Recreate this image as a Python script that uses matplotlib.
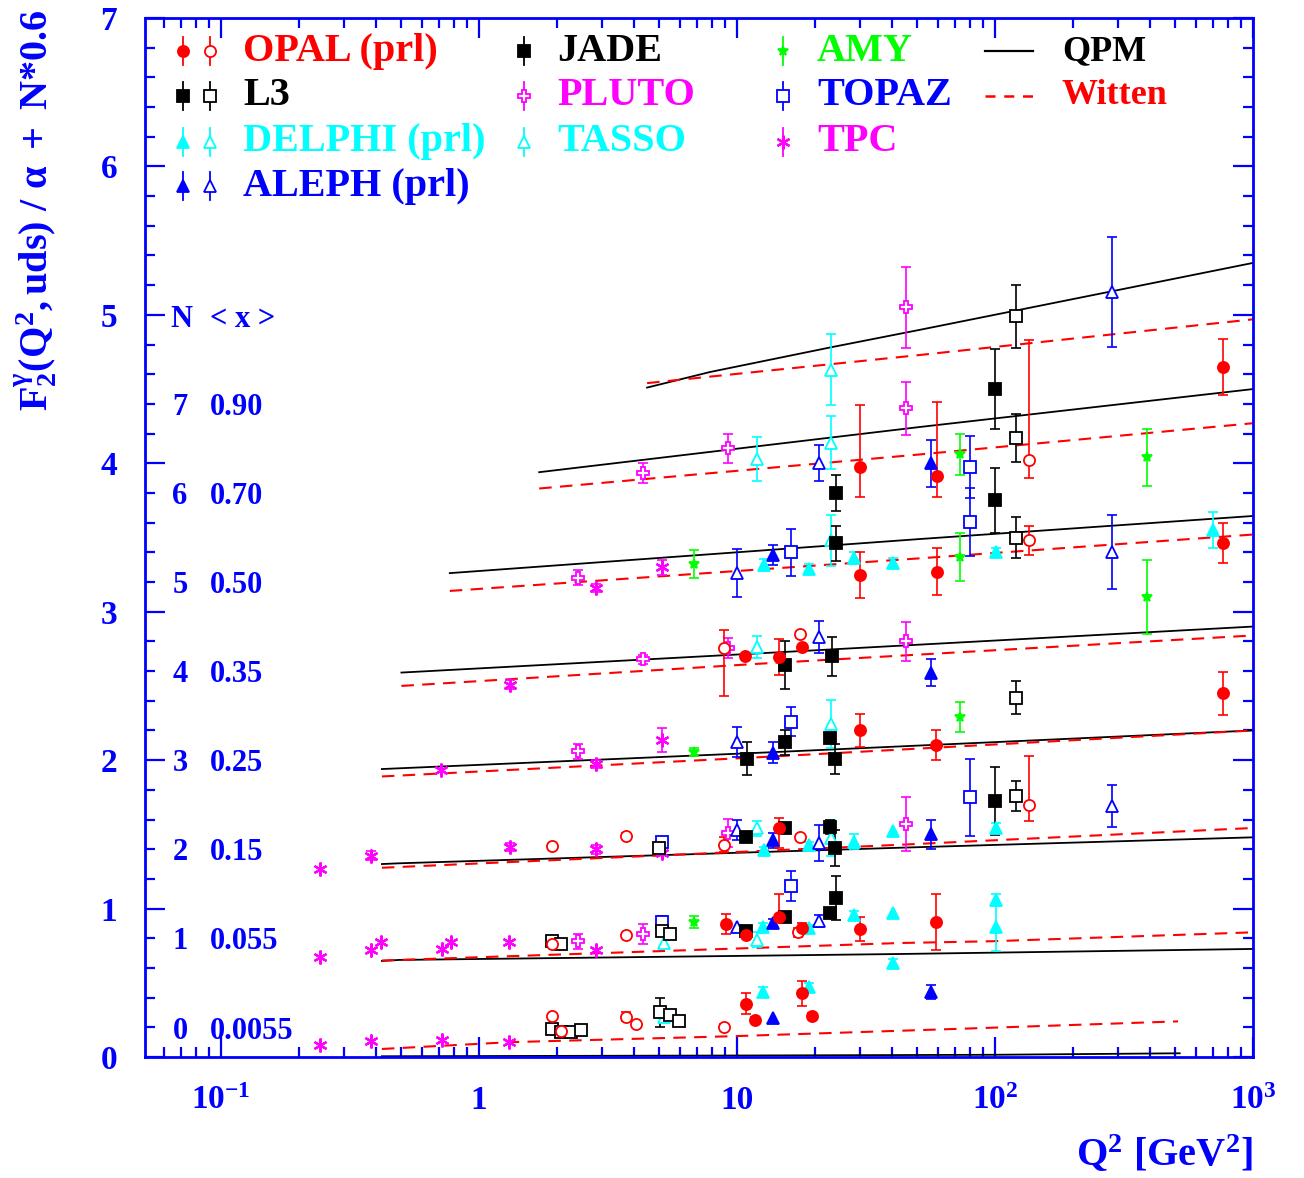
import numpy as np
import matplotlib
matplotlib.use('Agg')
import matplotlib.pyplot as plt
from matplotlib.ticker import FixedLocator, LogLocator, MultipleLocator, NullFormatter
import matplotlib.transforms as mtransforms

plt.rcParams['font.family'] = ['Liberation Serif', 'DejaVu Serif']
plt.rcParams['font.weight'] = 'bold'
plt.rcParams['mathtext.fontset'] = 'custom'
plt.rcParams['mathtext.rm'] = 'Liberation Serif:bold'
plt.rcParams['mathtext.bf'] = 'Liberation Serif:bold'
plt.rcParams['mathtext.it'] = 'Liberation Serif:bold:italic'

BLUE = '#0000ff'
RED = '#ff0000'
CYAN = '#00ffff'
MAG = '#ff00ff'
GREEN = '#00ff00'
BLACK = '#000000'

# ---------------- data (Q2 [GeV2], F2/alpha + N*0.6, errors) ----------------
opal_q2 = [765, 59.6, 30, 59.6, 30, 765, 765, 10.7, 14.5, 17.8, 30, 59, 14.5,
           9.06, 10.8, 14.5, 17.8, 30, 59, 10.8, 11.7, 17.8, 19.5]
opal_f = [4.65, 3.915, 3.975, 3.27, 3.25, 3.46, 2.45, 2.70, 2.695, 2.76, 2.20, 2.10, 1.54,
          0.895, 0.82, 0.94, 0.87, 0.86, 0.91, 0.36, 0.25, 0.43, 0.275]
opal_elo = [0.19, 0.14, 0.20, 0.16, 0.155, 0.135, 0.145, 0, 0.12, 0, 0.11, 0.10, 0.13,
            0.067, 0, 0.03, 0.03, 0.08, 0.19, 0.07, 0.02, 0.085, 0.02]
opal_ehi = [0.19, 0.50, 0.42, 0.16, 0.155, 0.135, 0.145, 0, 0.12, 0, 0.11, 0.10, 0.07,
            0.067, 0, 0.155, 0.03, 0.08, 0.19, 0.07, 0.02, 0.085, 0.02]

opalo_q2 = [135.5, 135.5, 8.9, 17.5, 135.5, 1.92, 3.71, 8.9, 17.5, 1.92, 3.71, 17.2,
            1.92, 2.08, 3.71, 4.06, 8.9]
opalo_f = [4.02, 3.48, 2.755, 2.85, 1.70, 1.42, 1.49, 1.43, 1.48, 0.76, 0.82, 0.84,
           0.275, 0.175, 0.27, 0.22, 0.20]
opalo_elo = [0.12, 0.095, 0.32, 0, 0.11, 0, 0.02, 0.05, 0, 0, 0, 0.03, 0, 0, 0.03, 0, 0.02]
opalo_ehi = [0.81, 0.095, 0.12, 0, 0.33, 0, 0.02, 0.05, 0, 0, 0, 0.03, 0, 0, 0.03, 0, 0.02]

l3_q2 = [120.6, 120.6, 120.6, 120.6, 120.6, 5.0, 5.12, 5.5, 1.92, 2.08,
         1.92, 2.08, 2.27, 2.48, 5.03, 5.5, 5.96]
l3_f = [4.99, 4.17, 3.50, 2.42, 1.76, 1.41, 0.85, 0.83, 0.78, 0.76,
        0.19, 0.17, 0.17, 0.18, 0.30, 0.28, 0.24]
l3_err = [0.21, 0.16, 0.14, 0.11, 0.10, 0, 0, 0, 0, 0, 0.03, 0, 0, 0, 0.10, 0, 0]

jade_q2 = [24.2, 24.2, 100, 100, 100, 15.3, 23.3, 10.9, 15.3, 23, 24,
           10.8, 15.3, 23, 24, 10.8, 15.3, 23, 24.2]
jade_f = [3.80, 3.46, 4.50, 3.75, 1.725, 2.64, 2.70, 2.01, 2.12, 2.15, 2.01,
          1.48, 1.54, 1.55, 1.41, 0.85, 0.94, 0.97, 1.07]
jade_err = [0.12, 0.12, 0.27, 0.22, 0.23, 0.16, 0.13, 0.11, 0.085, 0.03, 0.10,
            0.02, 0.03, 0.05, 0.12, 0, 0.02, 0.03, 0.15]

delphi_q2 = [12.7, 19.0, 28.3, 40.3, 100.6, 700, 12.7, 19.0, 28.3, 40.3, 100.6,
             12.6, 19.0, 28.3, 40.3, 100.6, 100.6, 40.3, 12.6, 19.0]
delphi_f = [3.315, 3.29, 3.36, 3.33, 3.40, 3.55, 1.395, 1.43, 1.45, 1.52, 1.545,
            0.875, 0.87, 0.955, 0.97, 1.06, 0.876, 0.63, 0.44, 0.47]
delphi_err = [0.04, 0.03, 0.04, 0.03, 0.03, 0.12, 0.02, 0.02, 0.05, 0, 0.03,
              0.03, 0.02, 0.03, 0, 0.04, 0.16, 0.03, 0.03, 0.03]

tasso_q2 = [12.0, 23.1, 23.1, 23.1, 12.0, 23.1, 12.0, 23.1, 5.2, 12.0, 5.2]
tasso_f = [4.03, 4.63, 4.14, 3.48, 2.76, 2.245, 1.54, 1.475, 0.77, 0.79, 0.27]
tasso_err = [0.15, 0.24, 0.18, 0.17, 0.075, 0.16, 0.05, 0.12, 0, 0.05, 0]

aleph_q2 = [13.8, 56.5, 56.5, 13.8, 56.5, 13.8, 13.8, 56.5, 13.8]
aleph_f = [3.38, 4.0, 2.59, 2.05, 1.50, 1.46, 0.90, 0.44, 0.265]
aleph_err = [0.067, 0.16, 0.09, 0.07, 0.10, 0.05, 0.03, 0.047, 0]

alepho_q2 = [10, 20.8, 284, 284, 284, 20.8, 10, 10, 20.8, 10, 20.8]
alepho_f = [3.26, 4.0, 5.155, 3.40, 1.69, 2.83, 2.12, 1.53, 1.44, 0.875, 0.915]
alepho_err = [0.16, 0.12, 0.37, 0.25, 0.14, 0.11, 0.10, 0.07, 0.12, 0, 0.04]

topaz_q2 = [16.2, 80, 80, 80, 16.2, 16.2, 5.12, 5.12]
topaz_f = [3.40, 3.975, 3.605, 1.75, 2.26, 1.15, 1.45, 0.91]
topaz_err = [0.16, 0.21, 0.23, 0.26, 0.10, 0.10, 0.02, 0.04]

pluto_q2 = [2.42, 2.42, 4.32, 4.32, 9.23, 45.2, 45.2, 45.2, 45.2, 9.23, 9.23, 2.42, 4.32]
pluto_f = [2.06, 3.23, 2.68, 3.935, 4.10, 5.05, 4.37, 2.80, 1.57, 2.756, 1.51, 0.78, 0.83]
pluto_err = [0.05, 0.05, 0.03, 0.07, 0.10, 0.27, 0.18, 0.13, 0.18, 0.065, 0.095, 0.05, 0.067]

tpc_q2 = [0.242, 0.242, 0.242, 0.381, 0.381, 0.417, 0.381, 0.719, 0.779, 0.719,
          1.31, 1.31, 2.84, 1.32, 1.32, 0.712, 2.84, 2.84, 2.84, 5.12, 5.12, 5.12]
tpc_f = [1.267, 0.674, 0.081, 1.355, 0.72, 0.775, 0.108, 0.728, 0.775, 0.115,
         0.775, 0.10, 0.72, 1.415, 2.507, 1.934, 1.974, 1.40, 3.16, 2.136, 3.30, 1.375]
tpc_err = [0, 0, 0, 0.03, 0, 0, 0, 0, 0, 0, 0, 0, 0, 0.03, 0.03, 0, 0.03, 0.03, 0.03,
           0.08, 0.05, 0]

amy_q2 = [6.8, 6.8, 6.8, 73.3, 73.3, 388, 388, 73.3]
amy_f = [3.32, 2.055, 0.91, 4.06, 3.37, 4.04, 3.10, 2.29]
amy_err = [0.095, 0.03, 0.04, 0.14, 0.16, 0.19, 0.25, 0.10]

# theory curves: QPM (solid) and Witten (dashed), one per N
qpm_q2 = {0: [0.42, 10, 100, 520], 1: [0.42, 0.49, 42.9, 1000], 2: [0.42, 0.49, 42.9, 1000],
          3: [0.42, 12.3, 1000], 4: [0.50, 12.3, 1000], 5: [0.77, 51.4, 1000],
          6: [1.71, 51.4, 1000], 7: [4.48, 7.86, 22.9, 51.4, 286, 1000]}
qpm_f = {0: [0.005, 0.01, 0.015, 0.025], 1: [0.647, 0.654, 0.694, 0.728],
         2: [1.30, 1.305, 1.41, 1.48], 3: [1.94, 2.05, 2.20], 4: [2.59, 2.72, 2.90],
         5: [3.26, 3.49, 3.645], 6: [3.94, 4.245, 4.50],
         7: [4.51, 4.615, 4.78, 4.90, 5.16, 5.35]}
wit_q2 = {0: [0.42, 1.32, 9.6, 73, 512], 1: [0.42, 42.9, 98, 1000], 2: [0.42, 42.9, 1000],
          3: [0.42, 12.3, 1000], 4: [0.50, 12.3, 1000], 5: [0.77, 51.4, 1000],
          6: [1.71, 51.4, 1000], 7: [4.48, 51.4, 1000]}
wit_f = {0: [0.054, 0.10, 0.14, 0.19, 0.24], 1: [0.65, 0.768, 0.78, 0.84],
         2: [1.275, 1.43, 1.543], 3: [1.89, 2.02, 2.20], 4: [2.50, 2.65, 2.84],
         5: [3.14, 3.36, 3.52], 6: [3.83, 4.06, 4.27], 7: [4.54, 4.73, 4.97]}

n_vals = [7, 6, 5, 4, 3, 2, 1, 0]
x_means = ['0.90', '0.70', '0.50', '0.35', '0.25', '0.15', '0.055', '0.0055']

# ---------------- figure ----------------
fig = plt.figure(figsize=(13.04, 11.78), dpi=100)
ax = fig.add_axes([145/1304, 1-1057/1178, 1108/1304, 1039/1178])
ax.set_xscale('log')
ax.set_xlim(0.0507, 1000)
ax.set_ylim(0, 7)

for n in qpm_q2:
    ax.plot(qpm_q2[n], qpm_f[n], color=BLACK, lw=1.3, zorder=2)
for n in wit_q2:
    ax.plot(wit_q2[n], wit_f[n], color=RED, lw=1.5, ls=(0, (6, 4)), zorder=2)


def draw(q2, f, elo, ehi, marker, color, filled, ms, mew=1.3):
    q2 = np.asarray(q2, float); f = np.asarray(f, float)
    elo = np.asarray(elo, float); ehi = np.asarray(ehi, float)
    m = (elo > 0) | (ehi > 0)
    if m.any():
        ax.errorbar(q2[m], f[m], yerr=[elo[m], ehi[m]], fmt='none', ecolor=color,
                    elinewidth=1.2, capsize=3.6, capthick=1.2, zorder=3)
    ax.plot(q2, f, ls='none', marker=marker, ms=ms, mec=color,
            mfc=color if filled else 'white', mew=mew, zorder=4)


ASTER = (6, 2, 0)
draw(tpc_q2, tpc_f, tpc_err, tpc_err, ASTER, MAG, True, 10, 1.6)
draw(pluto_q2, pluto_f, pluto_err, pluto_err, 'P', MAG, False, 9)
draw(amy_q2, amy_f, amy_err, amy_err, '*', GREEN, True, 7)
draw(tasso_q2, tasso_f, tasso_err, tasso_err, '^', CYAN, False, 8.5)
draw(delphi_q2, delphi_f, delphi_err, delphi_err, '^', CYAN, True, 8.5)
draw(topaz_q2, topaz_f, topaz_err, topaz_err, 's', BLUE, False, 8)
draw(alepho_q2, alepho_f, alepho_err, alepho_err, '^', BLUE, False, 8.5)
draw(aleph_q2, aleph_f, aleph_err, aleph_err, '^', BLUE, True, 8.5)
draw(l3_q2, l3_f, l3_err, l3_err, 's', BLACK, False, 8)
draw(jade_q2, jade_f, jade_err, jade_err, 's', BLACK, True, 8)
draw(opalo_q2, opalo_f, opalo_elo, opalo_ehi, 'o', RED, False, 8)
draw(opal_q2, opal_f, opal_elo, opal_ehi, 'o', RED, True, 8)

# ---------------- axes styling ----------------
for s in ax.spines.values():
    s.set_color(BLUE)
    s.set_linewidth(2.0)
ax.xaxis.set_major_locator(FixedLocator([0.1, 1, 10, 100, 1000]))
ax.xaxis.set_minor_locator(LogLocator(base=10, subs=np.arange(2, 10), numticks=20))
ax.xaxis.set_minor_formatter(NullFormatter())
ax.set_xticklabels([r'$\mathbf{10^{-1}}$', '1', '10', r'$\mathbf{10^{2}}$', r'$\mathbf{10^{3}}$'])
ax.yaxis.set_major_locator(MultipleLocator(1))
ax.yaxis.set_minor_locator(MultipleLocator(0.2))
ax.tick_params(which='both', direction='in', top=True, right=True, colors=BLUE,
               width=1.6)
ax.tick_params(which='major', length=14.5)
ax.tick_params(which='minor', length=7.2)
ax.tick_params(axis='x', which='major', labelsize=24, pad=20)
ax.tick_params(axis='y', which='major', labelsize=24, pad=20)
for lab in ax.get_xticklabels() + ax.get_yticklabels():
    lab.set_fontweight('bold')

# N / <x> table
tr = mtransforms.blended_transform_factory(ax.transAxes, ax.transData)
ax.text(0.033, 4.966, 'N', color=BLUE, fontsize=22, ha='center', va='center', transform=tr)
ax.text(0.0587, 4.966, '< x >', color=BLUE, fontsize=22, ha='left', va='center', transform=tr)
for n, xm in zip(n_vals, x_means):
    ax.text(0.0316, n * 0.6 + 0.175, str(n), color=BLUE, fontsize=22,
            ha='center', va='center', transform=tr)
    ax.text(0.0587, n * 0.6 + 0.175, xm, color=BLUE, fontsize=22,
            ha='left', va='center', transform=tr)

# ---------------- manual legend ----------------
T = ax.transAxes
rows = [0.968, 0.925, 0.881, 0.838]
dy = 0.0135


def leg_marker(x, y, marker, color, filled, ms, mew=1.3):
    ax.plot([x, x], [y - dy, y + dy], color=color, lw=1.3, transform=T, clip_on=False, zorder=5)
    ax.plot([x], [y], marker=marker, ms=ms, mec=color, mfc=color if filled else 'white',
            mew=mew, transform=T, clip_on=False, zorder=6, ls='none')


def leg_text(x, y, s, color):
    ax.text(x, y, s, color=color, fontsize=29, ha='left', va='center', transform=T)


leg_marker(0.0343, rows[0], 'o', RED, True, 8); leg_marker(0.0587, rows[0], 'o', RED, False, 8)
leg_text(0.0884, rows[0], 'OPAL (prl)', RED)
leg_marker(0.0343, rows[1], 's', BLACK, True, 8); leg_marker(0.0587, rows[1], 's', BLACK, False, 8)
leg_text(0.0884, rows[1], 'L3', BLACK)
leg_marker(0.0343, rows[2], '^', CYAN, True, 8.5); leg_marker(0.0587, rows[2], '^', CYAN, False, 8.5)
leg_text(0.0884, rows[2], 'DELPHI (prl)', CYAN)
leg_marker(0.0343, rows[3], '^', BLUE, True, 8.5); leg_marker(0.0587, rows[3], '^', BLUE, False, 8.5)
leg_text(0.0884, rows[3], 'ALEPH (prl)', BLUE)

leg_marker(0.342, rows[0], 's', BLACK, True, 8); leg_text(0.372, rows[0], 'JADE', BLACK)
leg_marker(0.342, rows[1], 'P', MAG, False, 9); leg_text(0.372, rows[1], 'PLUTO', MAG)
leg_marker(0.342, rows[2], '^', CYAN, False, 8.5); leg_text(0.372, rows[2], 'TASSO', CYAN)

leg_marker(0.576, rows[0], '*', GREEN, True, 7); leg_text(0.6065, rows[0], 'AMY', GREEN)
leg_marker(0.576, rows[1], 's', BLUE, False, 8); leg_text(0.6065, rows[1], 'TOPAZ', BLUE)
leg_marker(0.576, rows[2], ASTER, MAG, True, 10, 1.6); leg_text(0.6065, rows[2], 'TPC', MAG)

ax.plot([0.758, 0.801], [rows[0], rows[0]], color=BLACK, lw=1.6, transform=T, clip_on=False)
ax.text(0.8276, rows[0], 'QPM', color=BLACK, fontsize=26, ha='left', va='center', transform=T)
ax.plot([0.758, 0.801], [rows[1], rows[1]], color=RED, lw=1.8, ls=(0, (4, 3.5)), transform=T,
        clip_on=False)
ax.text(0.8276, rows[1], 'Witten', color=RED, fontsize=26, ha='left', va='center', transform=T)

# axis titles
fig.text(0.027, 0.992, r'$\mathbf{F_2^{\gamma}(Q^2,uds)\ /\ \alpha\ +\ N{*}0.6}$', color=BLUE,
         fontsize=29, rotation=90, ha='center', va='top')
fig.text(1253/1304, 0.02, r'$\mathbf{Q^2\ [GeV^2]}$', color=BLUE, fontsize=29,
         ha='right', va='center')

fig.savefig('out.png', dpi=100)
